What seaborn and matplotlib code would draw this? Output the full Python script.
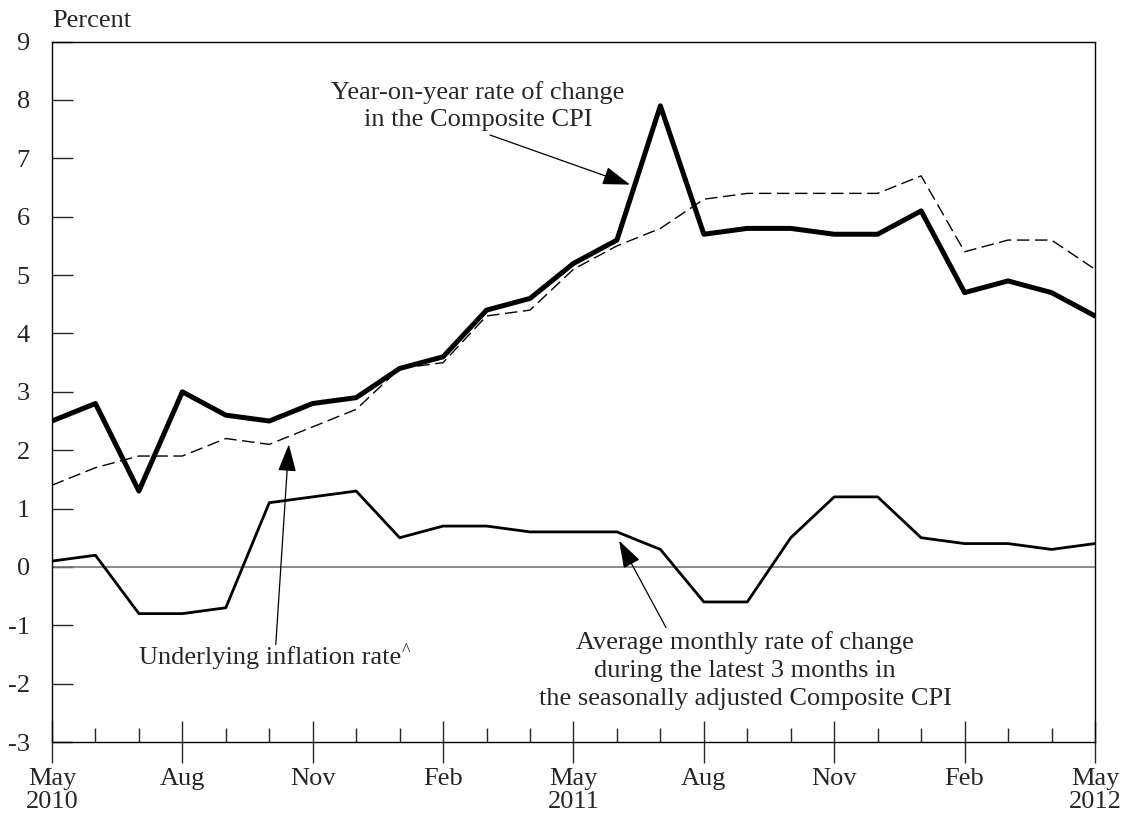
import numpy as np
import pandas as pd
import matplotlib
matplotlib.use("Agg")
import matplotlib.pyplot as plt
import seaborn as sns

# Monthly data, May 2010 - May 2012
months = ["2010-05", "2010-06", "2010-07", "2010-08", "2010-09", "2010-10", "2010-11",
          "2010-12", "2011-01", "2011-02", "2011-03", "2011-04", "2011-05", "2011-06",
          "2011-07", "2011-08", "2011-09", "2011-10", "2011-11", "2011-12", "2012-01",
          "2012-02", "2012-03", "2012-04", "2012-05"]
yoy_cpi = [2.5, 2.8, 1.3, 3.0, 2.6, 2.5, 2.8, 2.9, 3.4, 3.6, 4.4, 4.6, 5.2, 5.6,
           7.9, 5.7, 5.8, 5.8, 5.7, 5.7, 6.1, 4.7, 4.9, 4.7, 4.3]
underlying = [1.4, 1.7, 1.9, 1.9, 2.2, 2.1, 2.4, 2.7, 3.4, 3.5, 4.3, 4.4, 5.1, 5.5,
              5.8, 6.3, 6.4, 6.4, 6.4, 6.4, 6.7, 5.4, 5.6, 5.6, 5.1]
avg_3m_sa = [0.1, 0.2, -0.8, -0.8, -0.7, 1.1, 1.2, 1.3, 0.5, 0.7, 0.7, 0.6, 0.6, 0.6,
             0.3, -0.6, -0.6, 0.5, 1.2, 1.2, 0.5, 0.4, 0.4, 0.3, 0.4]
tick_labels = ["May\n2010", "Aug", "Nov", "Feb", "May\n2011", "Aug", "Nov", "Feb", "May\n2012"]

df = pd.DataFrame({"month": months, "yoy": yoy_cpi, "under": underlying, "avg3m": avg_3m_sa})
df["pos"] = np.arange(len(df))

sns.set_style("white")
plt.rcParams["font.family"] = ["Liberation Serif", "DejaVu Serif"]
plt.rcParams["font.size"] = 19
plt.rcParams["axes.unicode_minus"] = False

fig = plt.figure(figsize=(11.25, 8.21), dpi=100)
ax = fig.add_axes([0.0462, 0.0962, 0.9271, 0.8531])

ax.axhline(0, color="#777777", lw=1.2, zorder=1)
sns.lineplot(data=df, x="pos", y="under", ax=ax, color="black", lw=1.0, zorder=2)
ax.lines[-1].set_dashes([9, 4])
sns.lineplot(data=df, x="pos", y="avg3m", ax=ax, color="black", lw=2.0, zorder=3)
sns.lineplot(data=df, x="pos", y="yoy", ax=ax, color="black", lw=3.6, zorder=4)

ax.set_xlim(0, len(df) - 1)
ax.set_ylim(-3, 9)
ax.set_yticks(range(-3, 10))
ax.set_xlabel("")
ax.set_ylabel("")

ax.set_xticks(df["pos"][::3])
ax.set_xticklabels(tick_labels, linespacing=1.05)
ax.set_xticks(df["pos"], minor=True)
ax.tick_params(axis="x", which="major", direction="inout", length=30, width=1,
               pad=4, labelsize=19, bottom=True)
ax.tick_params(axis="x", which="minor", direction="in", length=10, width=1, bottom=True)
ax.tick_params(axis="y", which="major", direction="in", length=15, width=1,
               pad=16, labelsize=19, left=True)
for s in ax.spines.values():
    s.set_color("black")
    s.set_linewidth(1)

fig.text(0.046, 0.975, "Percent", fontsize=19, ha="left", va="center")

arrow = dict(arrowstyle="-|>,head_length=0.9,head_width=0.3", color="black",
             lw=0.9, shrinkA=0, shrinkB=0)
ax.text(9.8, 7.9, "Year-on-year rate of change\nin the Composite CPI",
        ha="center", va="center", fontsize=19, linespacing=1.3)
ax.annotate("", xy=(13.3, 6.55), xytext=(10.08, 7.4), arrowprops=arrow)

t = ax.text(5.02, -1.56, "Underlying inflation rate", ha="center", va="center", fontsize=19)
ax.annotate("^", xy=(1.0, 0.4), xycoords=t, xytext=(0, 0), textcoords="offset points",
            ha="left", va="bottom", fontsize=13)
ax.annotate("", xy=(5.45, 2.1), xytext=(5.15, -1.33), arrowprops=arrow)

ax.text(15.95, -1.78, "Average monthly rate of change\nduring the latest 3 months in\n"
        "the seasonally adjusted Composite CPI", ha="center", va="center",
        fontsize=19, linespacing=1.35)
ax.annotate("", xy=(13.05, 0.45), xytext=(14.13, -1.04), arrowprops=arrow)

plt.savefig("out.png", dpi=100)
